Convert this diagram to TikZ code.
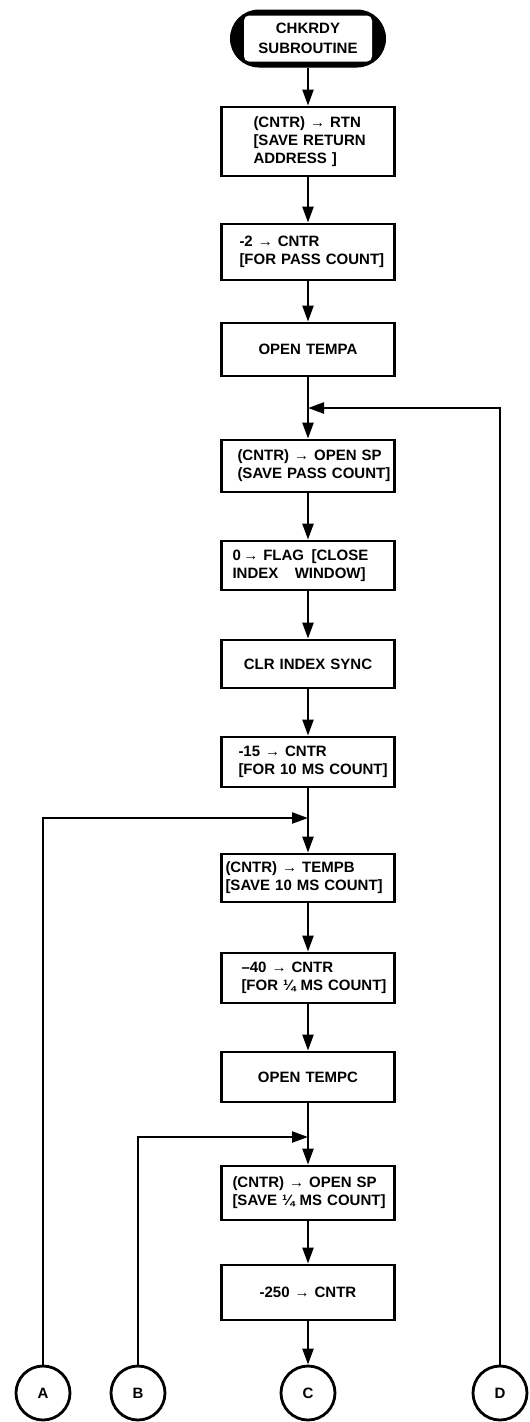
\documentclass[tikz,border=0pt]{standalone}
\usepackage{fontspec}
\setmainfont{Liberation Sans}
\usetikzlibrary{arrows.meta}
\newcommand{\myind}[1]{\hspace*{#1}}
\begin{document}
\begin{tikzpicture}[x=1pt,y=-1pt]
\tikzset{
  box/.style={draw, line width=2.8pt, minimum width=173pt, text width=173pt,
    inner xsep=0pt, inner ysep=0pt, align=left,
    font=\bfseries\fontsize{15}{18}\selectfont},
  cbox/.style={box, align=center},
  conn/.style={line width=2.3pt, -{Triangle[length=16pt,width=11pt]}},
  connector/.style={draw, circle, line width=2.8pt, minimum size=54pt, inner sep=0pt,
    font=\bfseries\fontsize{15}{15}\selectfont},
}
\useasboundingbox (0,0) rectangle (530,1422);
% terminal
\node[fill=black, draw=black, line width=1pt, rounded corners=28.5pt,
  minimum width=155pt, minimum height=57pt, inner sep=0pt] (term) at (308,38.5) {};
\node[fill=white, rounded corners=5pt, minimum width=128pt, minimum height=46pt,
  inner sep=0pt, align=center, font=\bfseries\fontsize{15}{20}\selectfont]
  (termtxt) at (term.center) {CHKRDY\\SUBROUTINE};
% process boxes
\node[box, minimum height=69pt] (b1) at (308,141.5)
  {\myind{32pt}(CNTR) → RTN\\\myind{32pt}[SAVE RETURN\\\myind{32pt}ADDRESS ]};
\node[box, minimum height=56pt] (b2) at (308,252)
  {\myind{18pt}-2 → CNTR\\\myind{18pt}[FOR PASS COUNT]};
\node[cbox, minimum height=53pt] (b3) at (308,349.5) {OPEN TEMPA};
\coordinate (jD) at (308,408);
\node[box, minimum height=52pt] (b4) at (308,466)
  {\myind{16pt}(CNTR) → OPEN SP\\\myind{16pt}(SAVE PASS COUNT]};
\node[box, minimum height=49pt] (b5) at (308,565.5)
  {\myind{11pt}0\,→ FLAG \,[CLOSE\\\myind{11pt}INDEX\hspace{1.1em}WINDOW]};
\node[cbox, minimum height=48pt] (b6) at (308,664) {CLR INDEX SYNC};
\node[box, minimum height=50pt] (b7) at (308,762)
  {\myind{17pt}-15 → CNTR\\\myind{17pt}[FOR 10 MS COUNT]};
\coordinate (jA) at (308,818);
\node[box, minimum height=48pt] (b8) at (308,878)
  {\myind{4pt}(CNTR) → TEMPB\\\myind{4pt}[SAVE 10 MS COUNT]};
\node[box, minimum height=50pt] (b9) at (308,978)
  {\myind{20pt}–40 → CNTR\\\myind{20pt}[FOR ¼ MS COUNT]};
\node[cbox, minimum height=50pt] (b10) at (308,1077) {OPEN TEMPC};
\coordinate (jB) at (308,1137);
\node[box, minimum height=54pt] (b11) at (308,1193)
  {\myind{11pt}(CNTR) → OPEN SP\\\myind{11pt}[SAVE ¼ MS COUNT]};
\node[cbox, minimum height=55pt] (b12) at (308,1292.5) {-250 → CNTR};
% off-page connectors
\node[connector] (A) at (43,1393) {A};
\node[connector] (B) at (138,1393) {B};
\node[connector] (C) at (308,1393) {C};
\node[connector] (D) at (500,1393) {D};
% flow lines
\draw[conn] (term.south) -- (b1.north);
\draw[conn] (b1) -- (b2);
\draw[conn] (b2) -- (b3);
\draw[conn] (b3) -- (b4);
\draw[conn] (b4) -- (b5);
\draw[conn] (b5) -- (b6);
\draw[conn] (b6) -- (b7);
\draw[conn] (b7) -- (b8);
\draw[conn] (b8) -- (b9);
\draw[conn] (b9) -- (b10);
\draw[conn] (b10) -- (b11);
\draw[conn] (b11) -- (b12);
\draw[conn] (b12) -- (C);
\draw[conn] (D) |- (jD);
\draw[conn] (A) |- (jA);
\draw[conn] (B) |- (jB);
\end{tikzpicture}
\end{document}
